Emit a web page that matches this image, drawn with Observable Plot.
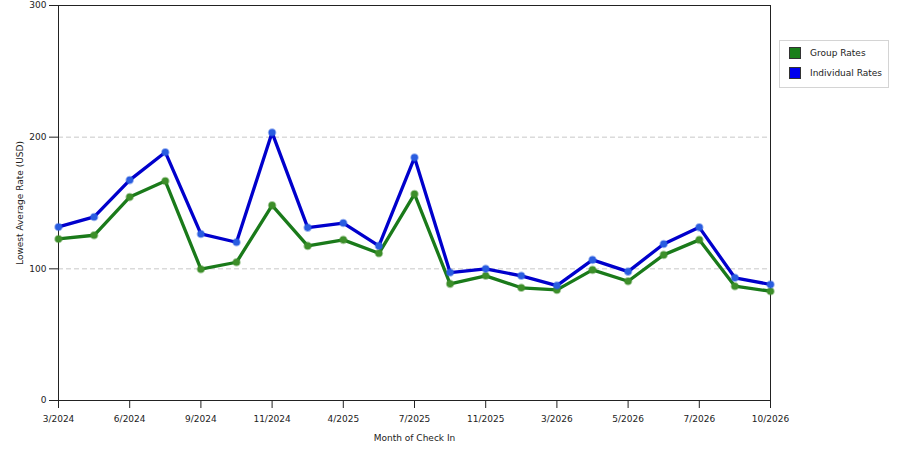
<!DOCTYPE html>
<html>
<head>
<meta charset="utf-8">
<script src="https://cdn.jsdelivr.net/npm/d3@7"></script>
<script src="https://cdn.jsdelivr.net/npm/@observablehq/plot@0.6"></script>
<style>
  html, body { margin: 0; padding: 0; background: #fff; }
  #wrap { position: relative; width: 900px; height: 450px; font-family: "DejaVu Sans", Verdana, sans-serif; }
  #legend { position: absolute; left: 779px; top: 40px; width: 110px; height: 48px; border: 1px solid #d4d4d4; background: #fff; box-sizing: border-box; font-size: 9px; color: #222; }
  #legend .item { position: absolute; left: 9px; height: 12px; line-height: 13px; }
  #legend .sw { display: inline-block; width: 12px; height: 12px; vertical-align: top; margin-right: 9px; box-sizing: border-box; border: 1px solid #333; }
</style>
</head>
<body>
<div id="wrap"></div>
<script>
const months = ["3/2024","4/2024","6/2024","7/2024","9/2024","10/2024","11/2024","3/2025","4/2025","5/2025","7/2025","10/2025","11/2025","12/2025","3/2026","4/2026","5/2026","6/2026","7/2026","9/2026","10/2026"];
const tickLabels = ["3/2024","6/2024","9/2024","11/2024","4/2025","7/2025","11/2025","3/2026","5/2026","7/2026","10/2026"];
const groupRates = [122.7,125.5,154.5,166.7,99.7,105,148.2,117.4,122,111.8,156.8,88.6,94.7,85.6,84,99.2,90.6,110.6,122,86.8,83];
const individualRates = [131.8,139.4,167.4,188.6,126.5,120.2,203.5,131.3,134.8,117.4,184.5,97.2,100,94.7,87.3,106.8,97.9,118.9,131.5,93.2,88.1];
const seriesNames = ["Group Rates","Individual Rates"];
const lineColors = ["#1a7a1a","#0000cc"];
const dotColors = ["#3d8f2a","#2a5de0"];
const yTicks = [0,100,200,300];
const gridTicks = [100,200];

const data = [];
months.forEach((m,i) => {
  data.push({month: m, series: seriesNames[0], value: groupRates[i]});
  data.push({month: m, series: seriesNames[1], value: individualRates[i]});
});

const chart = Plot.plot({
  width: 900,
  height: 450,
  marginLeft: 58,
  marginRight: 130,
  marginTop: 5,
  marginBottom: 50,
  style: {fontFamily: "'DejaVu Sans', Verdana, sans-serif", fontSize: "9px", color: "#222", background: "#fff"},
  x: {type: "point", domain: months, padding: 0, inset: 0, insetLeft: 0, insetRight: 0, round: false, align: 0.5},
  y: {domain: [0, 300]},
  color: {domain: seriesNames, range: lineColors},
  marks: [
    Plot.gridY(gridTicks, {stroke: "#c8c8c8", strokeOpacity: 1, strokeDasharray: "5,3"}),
    Plot.frame({stroke: "#222", strokeWidth: 1}),
    Plot.axisY(yTicks, {tickSize: 9, tickPadding: 3, stroke: "#222", fill: "#222", label: "Lowest Average Rate (USD)", labelAnchor: "center", labelOffset: 42, labelArrow: "none"}),
    Plot.axisX(tickLabels, {tickSize: 8, tickPadding: 7, stroke: "#222", fill: "#222", label: "Month of Check In", labelAnchor: "center", labelOffset: 40, labelArrow: "none"}),
    Plot.line(data, {x: "month", y: "value", z: "series", stroke: "series", strokeWidth: 3.3, strokeLinejoin: "round"}),
    Plot.dot(data, {x: "month", y: "value", fill: d => dotColors[seriesNames.indexOf(d.series)], stroke: d => dotColors[seriesNames.indexOf(d.series)], strokeOpacity: 0.45, strokeWidth: 2, r: 3.3})
  ]
});

const wrap = document.getElementById("wrap");
wrap.appendChild(chart);

const legend = document.createElement("div");
legend.id = "legend";
seriesNames.forEach((name, i) => {
  const item = document.createElement("div");
  item.className = "item";
  item.style.top = (6 + i * 20) + "px";
  const sw = document.createElement("span");
  sw.className = "sw";
  sw.style.background = i === 0 ? "#1a7f1a" : "#0000ee";
  item.appendChild(sw);
  item.appendChild(document.createTextNode(name));
  legend.appendChild(item);
});
wrap.appendChild(legend);
</script>
</body>
</html>
